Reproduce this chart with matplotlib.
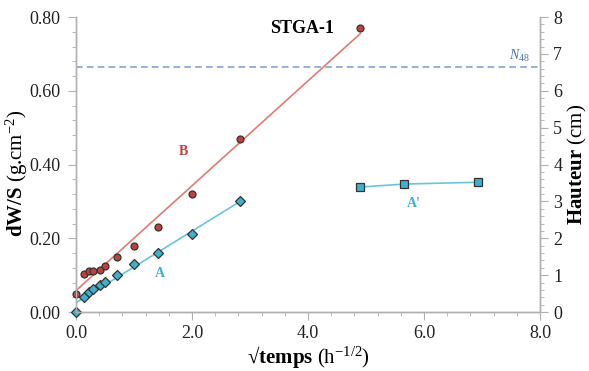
import numpy as np
import matplotlib
matplotlib.use("Agg")
import matplotlib.pyplot as plt
from matplotlib.ticker import MultipleLocator

plt.rcParams['font.family'] = ['Liberation Serif', 'DejaVu Serif']
plt.rcParams['mathtext.fontset'] = 'custom'
plt.rcParams['mathtext.rm'] = 'Liberation Serif'
plt.rcParams['mathtext.it'] = 'Liberation Serif:italic'
plt.rcParams['mathtext.bf'] = 'Liberation Serif:bold'

# sqrt(time) values (h^-1/2)
x_pts = [0.0, 0.14, 0.22, 0.30, 0.41, 0.50, 0.71, 1.00, 1.41, 2.00, 2.83]
x_B = x_pts + [4.90]
# series B : dW/S (g.cm-2)
y_B = [0.05, 0.102, 0.11, 0.11, 0.115, 0.126, 0.15, 0.18, 0.23, 0.32, 0.47, 0.769]
# series A : dW/S (g.cm-2)
y_A = [0.0, 0.041, 0.055, 0.062, 0.072, 0.081, 0.10, 0.13, 0.159, 0.212, 0.30]
# series A' : height (cm)
x_Ap = [4.90, 5.66, 6.93]
y_Ap = [3.39, 3.47, 3.52]
# fitted lines (end points)
fit_B_x = [0.0, 4.90]
fit_B_y = [0.058, 0.755]
fit_A_x = [0.0, 2.83]
fit_A_y = [0.025, 0.30]
# N48 level (cm on right axis)
n48 = 6.64

red_fill = '#c0403c'
red_line = '#e07b72'
blue_fill = '#3fb0cc'
blue_line = '#6cc4dc'
dash_col = '#7ea6d6'
grey = '#b0b0b0'

fig = plt.figure(figsize=(5.89, 3.71), dpi=100)
ax = fig.add_axes([0.129, 0.159, 0.788, 0.795])
ax2 = ax.twinx()

ax.plot(fit_B_x, fit_B_y, color=red_line, lw=1.2, zorder=2)
ax.plot(fit_A_x, fit_A_y, color=blue_line, lw=1.2, zorder=2)
ax.plot(x_B, y_B, 'o', ms=5, mfc=red_fill, mec='#333333', mew=0.9, zorder=3, clip_on=False)
ax.plot(x_pts, y_A, 'D', ms=5, mfc=blue_fill, mec='#333333', mew=0.9, zorder=3, clip_on=False)

ax2.plot(x_Ap, y_Ap, '-s', color=blue_line, lw=1.2, ms=6, mfc=blue_fill, mec='#333333', mew=0.9, zorder=3)
ax2.axhline(n48, color=dash_col, lw=1.2, ls=(0, (4, 2.5)), zorder=1)

ax.set_xlim(0, 8)
ax.set_ylim(0, 0.80)
ax2.set_ylim(0, 8)

ax.xaxis.set_major_locator(MultipleLocator(2.0))
ax.xaxis.set_minor_locator(MultipleLocator(0.4))
ax.yaxis.set_major_locator(MultipleLocator(0.2))
ax.yaxis.set_minor_locator(MultipleLocator(0.04))
ax2.yaxis.set_major_locator(MultipleLocator(1))
ax2.yaxis.set_minor_locator(MultipleLocator(0.2))
ax.xaxis.set_major_formatter(lambda v, p: f'{v:.1f}')
ax.yaxis.set_major_formatter(lambda v, p: f'{v:.2f}')

for a in (ax, ax2):
    for s in a.spines.values():
        s.set_color(grey)
        s.set_linewidth(1.0)
    a.spines['top'].set_visible(False)
    a.tick_params(which='both', color=grey, labelsize=13, labelcolor='#222222')
    a.tick_params(which='major', length=6)
    a.tick_params(which='minor', length=3)
ax.tick_params(axis='y', pad=5)

ax.set_ylabel(r'$\mathbf{dW/S}$ (g.cm$^{-2}$)', fontsize=15)
ax.yaxis.set_label_coords(-0.1, 0.47)
ax.set_xlabel('$\\mathbf{\u221atemps}$ (h$^{-1/2}$)', fontsize=15, labelpad=1)
ax2.set_ylabel(r'$\mathbf{Hauteur}$ (cm)', fontsize=15)
ax2.yaxis.set_label_coords(1.055, 0.5)

ax.text(3.9, 0.77, 'STGA-1', fontsize=13, fontweight='bold', ha='center', va='center')
ax.text(1.85, 0.435, 'B', fontsize=10, fontweight='bold', color=red_fill, ha='center', va='center')
ax.text(1.45, 0.104, 'A', fontsize=10, fontweight='bold', color=blue_fill, ha='center', va='center')
ax.text(5.83, 0.294, "A'", fontsize=10, fontweight='bold', color=blue_fill, ha='center', va='center')
ax2.text(7.65, 6.95, r'$N_{48}$', fontsize=10, color='#4a72b0', ha='center', va='center')

fig.savefig('out.png', dpi=100)
